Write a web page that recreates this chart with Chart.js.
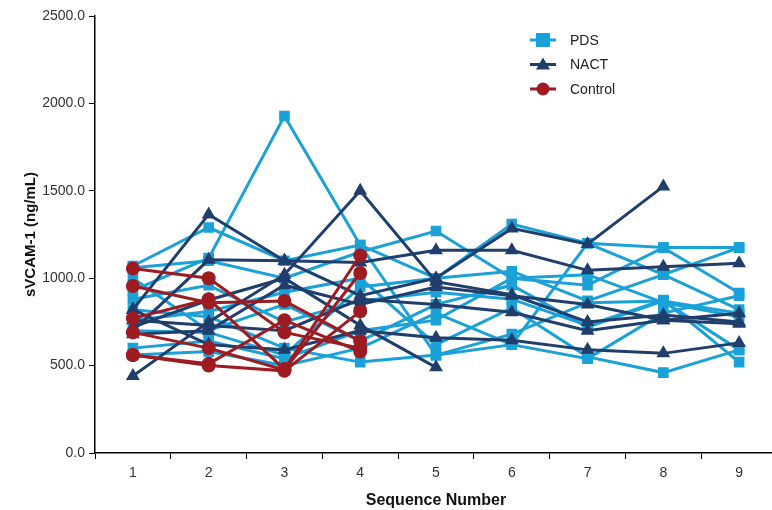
<!DOCTYPE html>
<html>
<head>
<meta charset="utf-8">
<script src="https://cdn.jsdelivr.net/npm/chart.js@4.4.1/dist/chart.umd.min.js"></script>
<style>
  html, body { margin: 0; padding: 0; background: #fff; overflow: hidden; }
  #wrap { width: 785px; height: 510px; }
</style>
</head>
<body>
<div id="wrap"><canvas id="chart"></canvas></div>
<script>
const sequence = ['1', '2', '3', '4', '5', '6', '7', '8', '9'];
const yTicks = [0, 500, 1000, 1500, 2000, 2500];

// one row per patient
const pdsSeries = [
    [1070, 1290, 1100, 1190, 1000, 1310, 1200, 1175, 1175],
    [930, 1115, 1928, 1190, 560, 620, 1200, 1020, 820],
    [1060, 1100, 1000, 1150, 1270, 1000, 960, 1175, 915],
    [820, 780, 600, 520, 560, 680, 860, 870, 590],
    [700, 690, 560, 950, 1000, 1040, 870, 1020, 1175],
    [880, 960, 750, 870, 920, 880, 730, 875, 520],
    [600, 640, 540, 700, 760, 1000, 1020, 860, 780],
    [760, 810, 920, 1000, 620, 830, 550, 460, 590],
    [1000, 700, 850, 640, 850, 960, 720, 870, 800],
    [560, 580, 500, 600, 800, 620, 540, 800, 900]
];
const nactSeries = [
    [820, 1365, 1100, 900, 1000, 1285, 1195, 1525, null],
    [440, 750, 1020, 1500, 980, 905, 750, 790, 750],
    [700, 1105, 1100, 1090, 1160, 1160, 1045, 1065, 1085],
    [760, 730, 700, 880, 850, 805, 700, 760, 800],
    [720, 875, 1000, 730, 490, null, null, null, null],
    [820, 620, 590, 700, 660, 645, 590, 570, 630],
    [680, 700, 960, 850, 950, 900, 850, 760, 740]
];
const controlSeries = [
    [1055, 1000, 690, 600],
    [955, 860, 870, 640],
    [770, 880, 480, 1130],
    [690, 600, 475, 1030],
    [560, 510, 760, 580],
    [560, 500, 470, 810]
];

const groups = [
    { name: 'PDS', color: '#1aa1d8', style: 'rect', radius: 7.5, rows: pdsSeries },
    { name: 'NACT', color: '#1f3e6c', style: 'triangle', radius: 8, rows: nactSeries },
    { name: 'Control', color: '#9e1b22', style: 'circle', radius: 7, rows: controlSeries }
];

// index 0 is drawn last in Chart.js, so put Control first to sit on top
const datasets = [];
groups.slice().reverse().forEach(g => {
    g.rows.forEach(row => {
        datasets.push({
            label: g.name,
            data: row,
            borderColor: g.color,
            backgroundColor: g.color,
            borderWidth: 3,
            pointStyle: g.style,
            pointRadius: g.radius,
            pointBorderWidth: 0,
            tension: 0,
            spanGaps: false
        });
    });
});

const fontFamily = '"Liberation Sans", Arial, sans-serif';

// legend drawn inside the plot area
const insideLegend = {
    id: 'insideLegend',
    afterDraw(chart) {
        const ctx = chart.ctx;
        ctx.save();
        groups.forEach((g, i) => {
            const y = 40 + i * 24.5;
            const x0 = 530, x1 = 556, cx = 543;
            ctx.strokeStyle = g.color;
            ctx.fillStyle = g.color;
            ctx.lineWidth = 3;
            ctx.beginPath();
            ctx.moveTo(x0, y);
            ctx.lineTo(x1, y);
            ctx.stroke();
            ctx.beginPath();
            if (g.style === 'rect') {
                ctx.rect(cx - 7, y - 7, 14, 14);
            } else if (g.style === 'triangle') {
                ctx.moveTo(cx, y - 7);
                ctx.lineTo(cx + 7, y + 5);
                ctx.lineTo(cx - 7, y + 5);
                ctx.closePath();
            } else {
                ctx.arc(cx, y, 6.5, 0, Math.PI * 2);
            }
            ctx.fill();
            ctx.fillStyle = '#222';
            ctx.font = '14px ' + fontFamily;
            ctx.textBaseline = 'middle';
            ctx.fillText(g.name, 570, y + 1);
        });
        ctx.restore();
    }
};

new Chart(document.getElementById('chart'), {
    type: 'line',
    data: { labels: sequence, datasets: datasets },
    plugins: [insideLegend],
    options: {
        responsive: true,
        maintainAspectRatio: false,
        animation: false,
        layout: { padding: { top: 16, right: 0, left: 0, bottom: 0 } },
        plugins: {
            legend: { display: false },
            tooltip: { enabled: false }
        },
        scales: {
            x: {
                offset: true,
                grid: {
                    offset: true,
                    drawOnChartArea: false,
                    drawTicks: true,
                    tickLength: 6,
                    color: '#000'
                },
                border: { color: '#000', width: 1.5 },
                ticks: {
                    color: '#333',
                    font: { family: fontFamily, size: 14 },
                    padding: 6
                },
                title: {
                    display: true,
                    text: 'Sequence Number',
                    color: '#111',
                    font: { family: fontFamily, size: 16, weight: 'bold' },
                    padding: { top: 2, bottom: 0 }
                },
                afterFit(scale) { scale.height = 57; }
            },
            y: {
                min: 0,
                max: 2500,
                afterBuildTicks(scale) {
                    scale.ticks = yTicks.map(v => ({ value: v }));
                },
                grid: {
                    drawOnChartArea: false,
                    drawTicks: true,
                    tickLength: 6,
                    color: '#000'
                },
                border: { color: '#000', width: 1.5 },
                ticks: {
                    color: '#333',
                    font: { family: fontFamily, size: 14 },
                    padding: 4,
                    callback: v => Number(v).toFixed(1)
                },
                title: {
                    display: true,
                    text: 'sVCAM-1 (ng/mL)',
                    color: '#111',
                    font: { family: fontFamily, size: 15, weight: 'bold' },
                    padding: { top: 22, bottom: 0 }
                },
                afterFit(scale) { scale.width = 95; }
            }
        }
    }
});
</script>
</body>
</html>
